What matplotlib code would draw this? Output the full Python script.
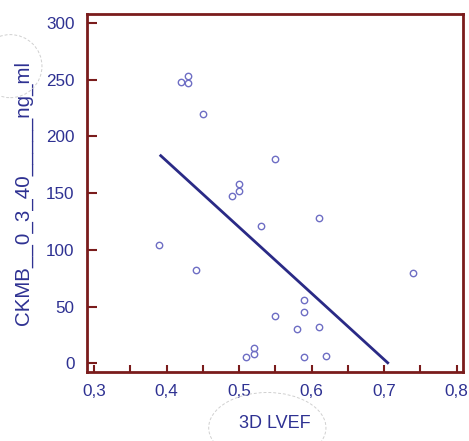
import numpy as np
import matplotlib
matplotlib.use("Agg")
import matplotlib.pyplot as plt
from matplotlib.patches import Ellipse

# LVEF vs CK-MB scatter with regression line
lvef = [0.39, 0.42, 0.43, 0.43, 0.44, 0.45, 0.49, 0.50, 0.50, 0.51, 0.52, 0.52,
        0.53, 0.55, 0.55, 0.58, 0.59, 0.59, 0.59, 0.61, 0.61, 0.62, 0.74]
ckmb = [104.5, 247.6, 253, 246.7, 82.5, 219.9, 147.1, 151.8, 158.2, 5.8, 8.5, 13.8,
        121, 180, 41.7, 29.9, 55.8, 44.9, 5.3, 127.7, 32, 6.2, 79.3]

# regression line end points
fit_x = [0.392, 0.705]
fit_y = [182.9, 0.5]

x_ticks = [0.3, 0.4, 0.5, 0.6, 0.7, 0.8]
x_ticklabels = ["0,3", "0,4", "0,5", "0,6", "0,7", "0,8"]
y_ticks = [0, 50, 100, 150, 200, 250, 300]

txt = "#2e3192"
spine = "#7a1c1c"
plt.rcParams['font.family'] = ['Liberation Sans', 'DejaVu Sans']

fig = plt.figure(figsize=(4.69, 4.41), dpi=100)
ax = fig.add_axes([0.1855, 0.1565, 0.8015, 0.8115])

ax.plot(lvef, ckmb, 'o', ms=4.6, mfc='none', mec='#6e6ec4', mew=1.0, zorder=3)
ax.plot(fit_x, fit_y, '-', color='#2a2a86', lw=2.0, zorder=2)

ax.set_xlim(0.2903, 0.8087)
ax.set_ylim(-7.6, 307.6)
ax.set_xticks(x_ticks)
ax.set_xticklabels(x_ticklabels)
ax.set_xticks(np.arange(0.35, 0.8, 0.1), minor=True)
ax.set_yticks(y_ticks)

for s in ax.spines.values():
    s.set_color(spine)
    s.set_linewidth(2.0)

ax.tick_params(axis='x', which='both', direction='in', length=5, width=1.5,
               color=spine, labelcolor=txt, labelsize=12.3, pad=9)
ax.tick_params(axis='y', which='both', direction='in', length=7, width=1.5,
               color=spine, labelcolor=txt, labelsize=12.3, pad=9)

ax.set_xlabel("3D LVEF", color=txt, fontsize=13, labelpad=11)
ax.set_ylabel("CKMB__0_3_40_____ng_ml", color=txt, fontsize=14.8, labelpad=9)

# faint dashed outlines behind the labels
fig.patches.append(Ellipse((0.022, 0.85), 0.135, 0.143, transform=fig.transFigure,
                           fill=False, ec='#d0d0d0', lw=0.7, ls=(0, (3, 2))))
fig.patches.append(Ellipse((0.57, 0.03), 0.25, 0.16, transform=fig.transFigure,
                           fill=False, ec='#d0d0d0', lw=0.7, ls=(0, (3, 2))))

fig.savefig("out.png", dpi=100)
